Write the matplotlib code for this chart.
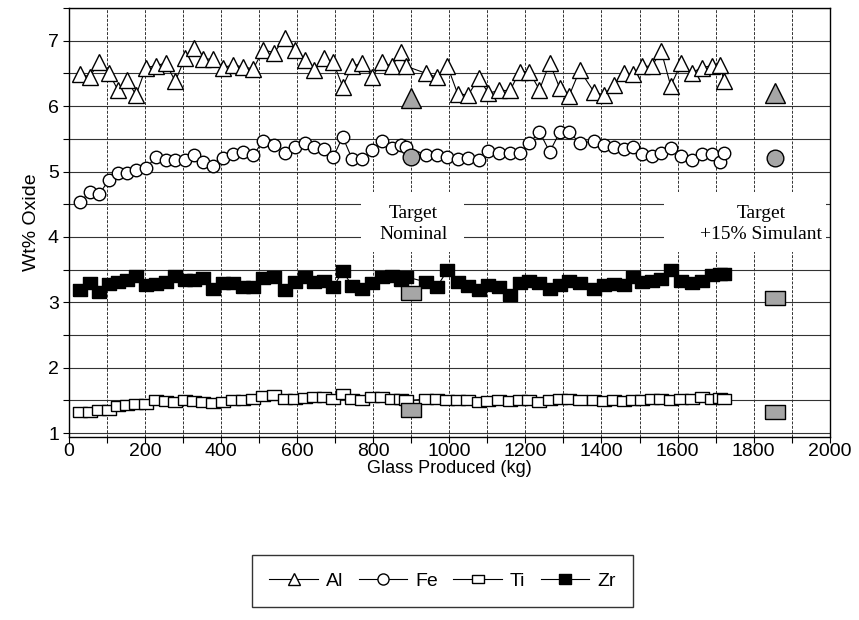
import matplotlib
matplotlib.use("Agg")
import matplotlib.pyplot as plt
from matplotlib.patches import Rectangle
from matplotlib.ticker import MultipleLocator

# glass produced (kg) for each sample
glass_kg = [30, 55, 80, 105, 130, 153, 177, 203, 230, 255,
            280, 305, 329, 353, 380, 405, 432, 458, 485, 511,
            540, 568, 595, 620, 645, 670, 695, 720, 745, 772,
            798, 822, 850, 872, 887, 940, 968, 995, 1022, 1050,
            1077, 1103, 1132, 1160, 1185, 1210, 1237, 1264, 1290, 1315,
            1343, 1380, 1406, 1432, 1458, 1483, 1507, 1532, 1557, 1582,
            1610, 1637, 1664, 1690, 1712, 1722]

al = [6.49, 6.45, 6.67, 6.51, 6.24, 6.40, 6.17, 6.59, 6.62, 6.66,
      6.38, 6.73, 6.89, 6.72, 6.72, 6.59, 6.63, 6.60, 6.57, 6.86,
      6.82, 7.04, 6.86, 6.71, 6.56, 6.73, 6.67, 6.30, 6.61, 6.66,
      6.45, 6.67, 6.61, 6.83, 6.61, 6.50, 6.44, 6.62, 6.19, 6.17,
      6.43, 6.20, 6.24, 6.24, 6.53, 6.53, 6.25, 6.66, 6.28, 6.16,
      6.55, 6.22, 6.17, 6.33, 6.51, 6.49, 6.61, 6.61, 6.84, 6.31,
      6.66, 6.51, 6.59, 6.62, 6.63, 6.38]

fe = [4.54, 4.68, 4.65, 4.87, 4.98, 4.98, 5.02, 5.05, 5.23, 5.17,
      5.17, 5.17, 5.25, 5.15, 5.09, 5.20, 5.27, 5.30, 5.25, 5.47,
      5.41, 5.28, 5.38, 5.43, 5.38, 5.34, 5.22, 5.53, 5.19, 5.19,
      5.33, 5.46, 5.36, 5.41, 5.38, 5.25, 5.25, 5.23, 5.19, 5.21,
      5.17, 5.32, 5.28, 5.29, 5.28, 5.43, 5.61, 5.30, 5.60, 5.60,
      5.44, 5.46, 5.41, 5.37, 5.34, 5.37, 5.27, 5.24, 5.29, 5.36,
      5.24, 5.18, 5.27, 5.27, 5.15, 5.29]

ti = [1.32, 1.33, 1.35, 1.36, 1.41, 1.43, 1.44, 1.45, 1.50, 1.49,
      1.48, 1.50, 1.49, 1.47, 1.46, 1.48, 1.50, 1.51, 1.53, 1.57,
      1.58, 1.53, 1.52, 1.54, 1.56, 1.55, 1.52, 1.60, 1.52, 1.51,
      1.55, 1.55, 1.53, 1.52, 1.50, 1.52, 1.53, 1.51, 1.50, 1.51,
      1.48, 1.49, 1.50, 1.49, 1.50, 1.51, 1.48, 1.50, 1.52, 1.53,
      1.50, 1.50, 1.49, 1.50, 1.49, 1.51, 1.50, 1.52, 1.53, 1.50,
      1.52, 1.53, 1.55, 1.53, 1.54, 1.52]

zr = [3.19, 3.30, 3.16, 3.28, 3.31, 3.34, 3.40, 3.26, 3.28, 3.31,
      3.40, 3.34, 3.34, 3.37, 3.21, 3.30, 3.30, 3.24, 3.24, 3.37,
      3.39, 3.19, 3.31, 3.39, 3.31, 3.32, 3.23, 3.48, 3.25, 3.21,
      3.30, 3.39, 3.40, 3.34, 3.39, 3.31, 3.24, 3.49, 3.31, 3.25,
      3.19, 3.26, 3.24, 3.11, 3.29, 3.32, 3.30, 3.21, 3.27, 3.32,
      3.30, 3.21, 3.26, 3.28, 3.26, 3.39, 3.31, 3.33, 3.36, 3.49,
      3.33, 3.29, 3.32, 3.42, 3.44, 3.44]

# target compositions: nominal (plotted at 900 kg) and +15% simulant
target_kg = [900, 1855]
target_al = [6.12, 6.20]
target_fe = [5.23, 5.20]
target_ti = [1.35, 1.32]
target_zr = [3.15, 3.06]

plt.rcParams["font.family"] = ["Liberation Sans", "DejaVu Sans"]

fig = plt.figure(figsize=(8.59, 6.2), dpi=100)
ax = fig.add_axes([0.080, 0.295, 0.886, 0.692])

rect_marker = [(-1.4, -1), (1.4, -1), (1.4, 1), (-1.4, 1), (-1.4, -1)]
wide_sq = [(-1.15, -1), (1.15, -1), (1.15, 1), (-1.15, 1), (-1.15, -1)]

line_kw = dict(color="black", lw=0.8, markeredgecolor="black", markeredgewidth=1.0)
h_al, = ax.plot(glass_kg, al, marker="^", ms=11, mfc="white", label="Al", **line_kw)
h_fe, = ax.plot(glass_kg, fe, marker="o", ms=9, mfc="white", label="Fe", **line_kw)
h_ti, = ax.plot(glass_kg, ti, marker=rect_marker, ms=10, mfc="white", label="Ti", **line_kw)
h_zr, = ax.plot(glass_kg, zr, marker=wide_sq, ms=9.5, mfc="black", label="Zr", **line_kw)

gray = "#a6a6a6"
tkw = dict(ls="none", mfc=gray, mec="black", mew=1.0, zorder=3)
ax.plot(target_kg, target_al, marker="^", ms=15, **tkw)
ax.plot(target_kg, target_fe, marker="o", ms=12, **tkw)
ax.plot(target_kg, target_zr, marker=rect_marker, ms=14.5, **tkw)
ax.plot(target_kg, target_ti, marker=rect_marker, ms=14.5, **tkw)

# white boxes behind the target captions hide the grid
ax.add_patch(Rectangle((768, 3.77), 272, 0.91, fc="white", ec="none", zorder=1))
ax.add_patch(Rectangle((1565, 3.77), 425, 0.91, fc="white", ec="none", zorder=1))
serif = ["Liberation Serif", "DejaVu Serif"]
ax.text(905, 4.2, "Target\nNominal", ha="center", va="center", family=serif,
        fontsize=14, linespacing=1.35, zorder=4)
ax.text(1820, 4.2, "Target\n+15% Simulant", ha="center", va="center", family=serif,
        fontsize=14, linespacing=1.35, zorder=4)

ax.set_xlim(0, 2000)
ax.set_ylim(0.94, 7.5)
ax.xaxis.set_major_locator(MultipleLocator(200))
ax.xaxis.set_minor_locator(MultipleLocator(100))
ax.yaxis.set_major_locator(MultipleLocator(1))
ax.yaxis.set_minor_locator(MultipleLocator(0.5))
ax.set_axisbelow(True)
ax.xaxis.grid(True, which="both", color="#333333", lw=0.7, ls=(0, (3, 1.5)))
ax.yaxis.grid(True, which="both", color="#333333", lw=0.8)
ax.tick_params(which="both", direction="out", length=4, width=0.8, labelsize=14)
ax.tick_params(axis="x", pad=0)
ax.tick_params(axis="y", pad=3)
for s in ax.spines.values():
    s.set_linewidth(1.0)

ax.set_xlabel("Glass Produced (kg)", fontsize=13, labelpad=0)
ax.set_ylabel("Wt% Oxide", fontsize=14, labelpad=6)

leg = fig.legend([h_al, h_fe, h_ti, h_zr], ["Al", "Fe", "Ti", "Zr"], loc="center",
                 bbox_to_anchor=(0.515, 0.063), ncol=4, fancybox=False,
                 edgecolor="black", fontsize=14, handlelength=2.5,
                 columnspacing=0.8, handletextpad=0.4, borderpad=0.9)
leg.get_frame().set_linewidth(1.0)
for h in leg.legend_handles:
    h.set_markersize(8)

fig.savefig("out.png", dpi=100)
